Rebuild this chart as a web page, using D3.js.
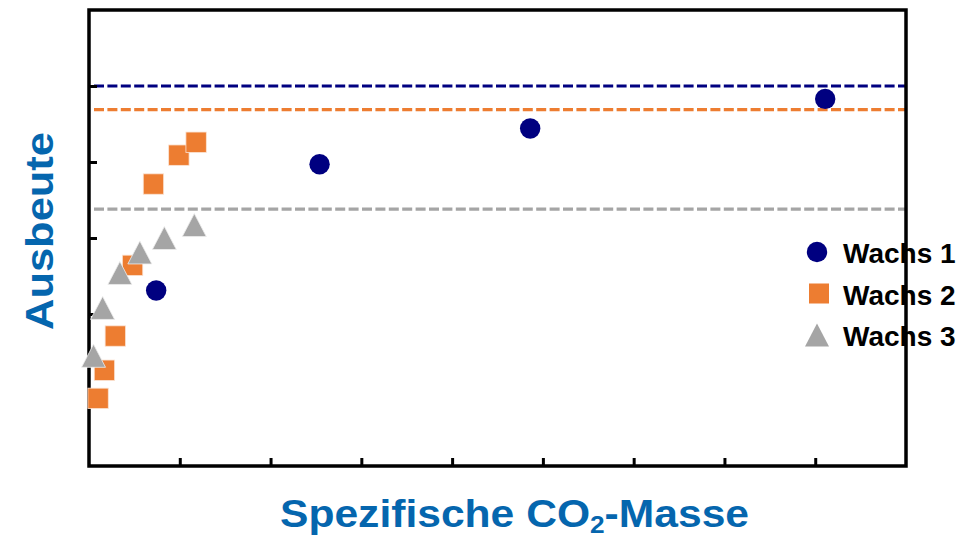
<!DOCTYPE html>
<html>
<head>
<meta charset="utf-8">
<script src="https://cdn.jsdelivr.net/npm/d3@7"></script>
<style>
  html, body { margin: 0; padding: 0; background: #fff; }
  svg { display: block; font-family: "Liberation Sans", Arial, sans-serif; }
</style>
</head>
<body>
<svg id="chart" width="978" height="538"></svg>
<script>
// Series names (legend order)
const seriesNames = ["Wachs 1", "Wachs 2", "Wachs 3"];

// Wachs 1: specific CO2 mass vs. yield
const wachs1X = [0.74, 2.54, 4.86, 8.11];
const wachs1Y = [2.31, 3.97, 4.44, 4.83];

// Wachs 2
const wachs2X = [0.10, 0.17, 0.29, 0.48, 0.71, 0.99, 1.18];
const wachs2Y = [0.89, 1.26, 1.71, 2.64, 3.71, 4.09, 4.26];

// Wachs 3
const wachs3X = [0.05, 0.15, 0.34, 0.56, 0.83, 1.16];
const wachs3Y = [1.45, 2.08, 2.54, 2.81, 3.00, 3.17];

// Plateau (maximum yield) per wax, drawn as dashed lines
const plateauLevels = [5.00, 4.69, 3.38];

// Axis ticks (unlabelled)
const xTicks = [1, 2, 3, 4, 5, 6, 7, 8];
const yTicks = [1, 2, 3, 4, 5];

const colors = ["#000080", "#ED7D31", "#A5A5A5"];
const titleColor = "#0566AE";

const svg = d3.select("#chart");
const plotLeft = 89, plotRight = 906, plotTop = 10, plotBottom = 466;

const x = d3.scaleLinear().domain([0, 9]).range([plotLeft, plotRight]);
const y = d3.scaleLinear().domain([0, 6]).range([plotBottom, plotTop]);

// Plateau dashed lines
svg.append("g").selectAll("line")
  .data(plateauLevels)
  .join("line")
  .attr("x1", plotLeft + 5).attr("x2", plotRight)
  .attr("y1", d => y(d)).attr("y2", d => y(d))
  .attr("stroke", (d, i) => colors[i])
  .attr("stroke-width", 3.2)
  .attr("stroke-dasharray", "10,3.4");

// Inward ticks
const xAxis = d3.axisBottom(x).tickValues(xTicks).tickSizeInner(-8).tickSizeOuter(0).tickFormat("");
const yAxis = d3.axisLeft(y).tickValues(yTicks).tickSizeInner(-8).tickSizeOuter(0).tickFormat("");

const gx = svg.append("g").attr("transform", `translate(0,${plotBottom})`).call(xAxis);
const gy = svg.append("g").attr("transform", `translate(${plotLeft},0)`).call(yAxis);
[gx, gy].forEach(g => {
  g.select(".domain").remove();
  g.selectAll(".tick line").attr("stroke", "#000").attr("stroke-width", 3);
});

// Frame
svg.append("rect")
  .attr("x", plotLeft).attr("y", plotTop)
  .attr("width", plotRight - plotLeft).attr("height", plotBottom - plotTop)
  .attr("fill", "none").attr("stroke", "#000").attr("stroke-width", 3.5);

// Marker shapes
const trianglePath = "M0,-11.5L12,11.5L-12,11.5Z";

function zip(xs, ys) { return xs.map((v, i) => ({ x: v, y: ys[i] })); }

const marks = svg.append("g");

marks.append("g").selectAll("circle")
  .data(zip(wachs1X, wachs1Y))
  .join("circle")
  .attr("cx", d => x(d.x)).attr("cy", d => y(d.y))
  .attr("r", 10.2)
  .attr("fill", colors[0]);

marks.append("g").selectAll("rect")
  .data(zip(wachs2X, wachs2Y))
  .join("rect")
  .attr("x", d => x(d.x) - 10.2).attr("y", d => y(d.y) - 10.2)
  .attr("width", 20.4).attr("height", 20.4)
  .attr("fill", colors[1])
  .attr("stroke", "#fbe3d3").attr("stroke-width", 0.8);

marks.append("g").selectAll("path")
  .data(zip(wachs3X, wachs3Y))
  .join("path")
  .attr("transform", d => `translate(${x(d.x)},${y(d.y)})`)
  .attr("d", trianglePath)
  .attr("fill", colors[2])
  .attr("stroke", "#eeeeee").attr("stroke-width", 0.8);

// Legend
const legend = svg.append("g").attr("transform", "translate(817,252)");
const legendRow = legend.selectAll("g")
  .data(seriesNames)
  .join("g")
  .attr("transform", (d, i) => `translate(0,${i * 41.5})`);

legendRow.each(function (d, i) {
  const g = d3.select(this);
  if (i === 0) g.append("circle").attr("r", 10.2).attr("fill", colors[0]);
  if (i === 1) g.append("rect").attr("x", -8).attr("y", -10).attr("width", 20).attr("height", 20).attr("fill", colors[1]);
  if (i === 2) g.append("path").attr("d", trianglePath).attr("fill", colors[2]);
});

legendRow.append("text")
  .attr("x", 26).attr("y", 11)
  .attr("font-size", 28).attr("font-weight", "bold")
  .attr("fill", "#000")
  .text(d => d);

// Axis titles
const xTitle = svg.append("text")
  .attr("x", 280).attr("y", 527)
  .attr("font-size", 39).attr("font-weight", "bold")
  .attr("fill", titleColor)
  .attr("textLength", 469).attr("lengthAdjust", "spacingAndGlyphs");
xTitle.append("tspan").text("Spezifische CO");
xTitle.append("tspan").attr("font-size", 24).attr("dy", 6).text("2");
xTitle.append("tspan").attr("dy", -6).text("-Masse");

svg.append("text")
  .attr("transform", "translate(53,330) rotate(-90)")
  .attr("font-size", 38).attr("font-weight", "bold")
  .attr("fill", titleColor)
  .attr("textLength", 198).attr("lengthAdjust", "spacingAndGlyphs")
  .text("Ausbeute");
</script>
</body>
</html>
